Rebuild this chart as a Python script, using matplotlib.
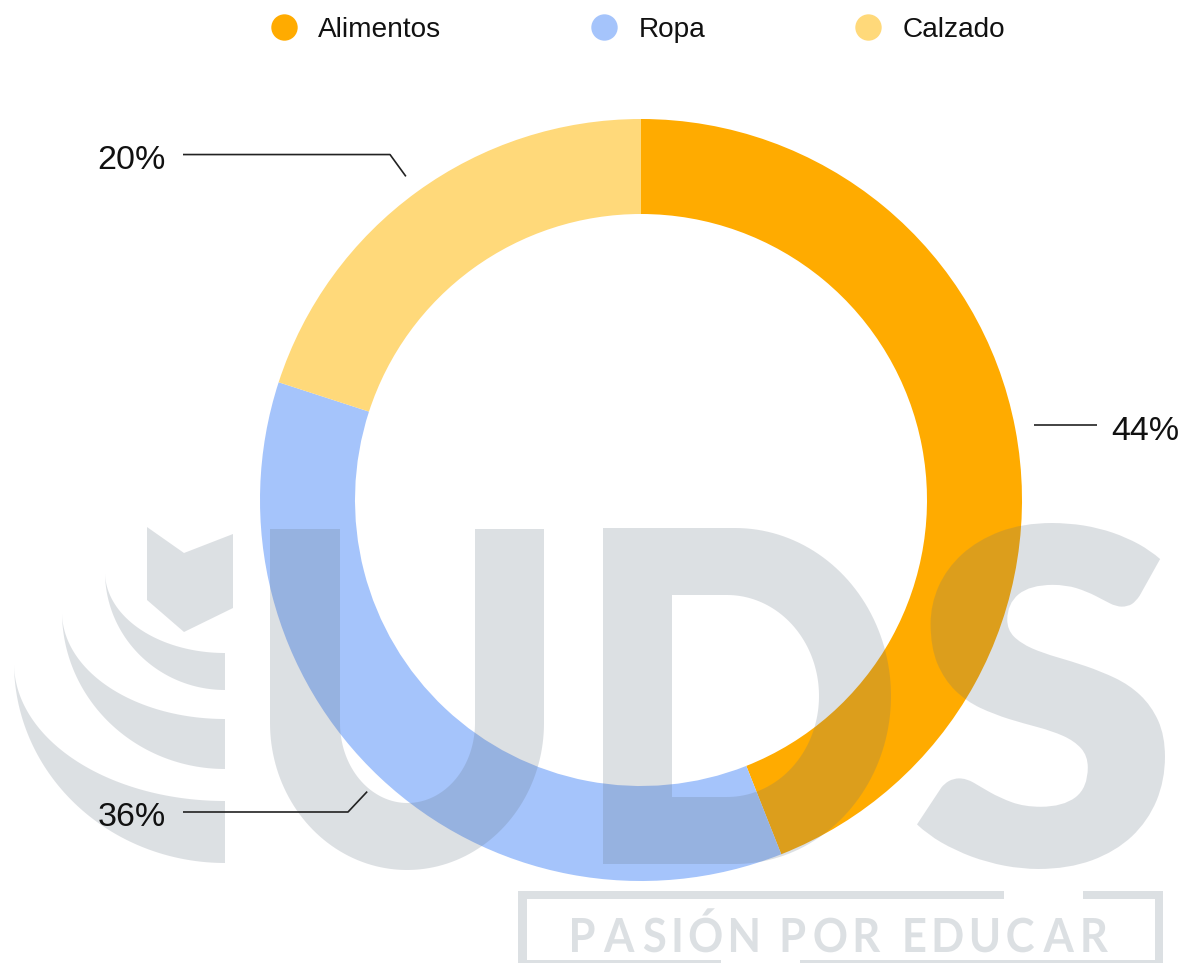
import numpy as np
import matplotlib.pyplot as plt
from matplotlib.path import Path
from matplotlib.patches import PathPatch, Polygon, Rectangle
from matplotlib.textpath import TextPath
from matplotlib.font_manager import FontProperties
from matplotlib.transforms import Affine2D
from matplotlib.lines import Line2D

plt.rcParams['font.family'] = ['Liberation Sans', 'DejaVu Sans']

# datos
categorias = ['Alimentos', 'Ropa', 'Calzado']
valores = [44, 36, 20]
colores = ['#FFAB00', '#A5C4FB', '#FFD97A']
etiquetas = [f'{v}%' for v in valores]

fig = plt.figure(figsize=(11.88, 9.63), dpi=100)
ax = fig.add_axes([0, 0, 1, 1])

# dona (coordenadas en pixeles, eje y hacia abajo)
centro = np.array([641, 500])
R = 381
wedges, _ = ax.pie(valores, colors=colores, startangle=270, counterclock=True,
                   center=tuple(centro), radius=R,
                   wedgeprops=dict(width=95, linewidth=0))
ax.set_xlim(0, 1188)
ax.set_ylim(963, 0)
ax.set_aspect('equal')
ax.axis('off')

# lineas guia y porcentajes
codo = [0, 28, 27]
for w, txt, l in zip(wedges, etiquetas, codo):
    m = np.deg2rad((w.theta1 + w.theta2) / 2)
    d = np.array([np.cos(m), np.sin(m)])
    p0 = centro + (R + 19) * d
    p1 = centro + (R + 19 + l) * d
    if d[0] < 0:
        xf, xt, ha = 183, 166, 'right'
    else:
        xf, xt, ha = 1097, 1111, 'left'
    ax.plot([p0[0], p1[0], xf], [p0[1], p1[1], p1[1]], color='#222222', lw=1.2,
            zorder=5, solid_capstyle='butt')
    ax.text(xt, p1[1] + 6, txt, ha=ha, va='center', fontsize=24.5, color='#111111', zorder=6)

# marca de agua UDS
wm = dict(facecolor=(100 / 255, 115 / 255, 130 / 255), edgecolor='none', alpha=0.22, zorder=3)


def elipse(cx, cy, a, b, t0, t1, n=90):
    t = np.linspace(t0, t1, n)
    return [tuple(p) for p in np.column_stack([cx + a * np.cos(t), cy + b * np.sin(t)])]


def compuesto(*anillos):
    verts, codes = [], []
    for pts in anillos:
        verts += pts + [pts[0]]
        codes += [Path.MOVETO] + [Path.LINETO] * (len(pts) - 1) + [Path.CLOSEPOLY]
    return Path(verts, codes)


def texto_en_caja(s, prop, x0, y0, x1, y1):
    tp = TextPath((0, 0), s, prop=prop, size=100)
    e = tp.get_extents()
    sx = (x1 - x0) / e.width
    sy = (y1 - y0) / e.height
    tr = Affine2D().translate(-e.x0, -e.y0).scale(sx, -sy).translate(x0, y1)
    return tr.transform_path(tp)


def texto_espaciado(s, prop, x0, x1, base, alto, gap=10, gap_palabra=27):
    # letras separadas (tracking) ajustadas al ancho x0..x1, altura de mayuscula = alto
    cap = TextPath((0, 0), 'H', prop=prop, size=100).get_extents().height
    k = alto / cap
    piezas, x = [], 0.0
    for ch in s:
        if ch == ' ':
            x += gap_palabra - gap
            continue
        tp = TextPath((0, 0), ch, prop=prop, size=100)
        e = tp.get_extents()
        piezas.append((tp, e, x))
        x += e.width * k + gap
    total = x - gap
    sx = (x1 - x0) / total
    paths = []
    for tp, e, xp in piezas:
        tr = Affine2D().translate(-e.x0, 0).scale(k * sx, -k).translate(x0 + xp * sx, base)
        paths.append(tr.transform_path(tp))
    return Path.make_compound_path(*paths)


# logo: chevron y arcos
ax.add_patch(Polygon([(147, 527), (184, 553), (233, 534), (233, 608), (184, 632), (147, 600)], **wm))
for tx, ty, bo, bi in [(105, 572, 118, 81), (62, 612, 157, 107), (14, 663, 200, 138)]:
    a = 225 - tx
    pts = elipse(225, ty, a, bo, np.pi, np.pi / 2) + elipse(225, ty, a, bi, np.pi / 2, np.pi)
    ax.add_patch(Polygon(pts, **wm))

# U
u = [(270, 529)] + elipse(407, 723, 137, 147, np.pi, 0) + [(544, 529), (475, 529)] \
    + elipse(407.5, 723, 67.5, 80, 0, np.pi) + [(340, 529)]
ax.add_patch(Polygon(u, **wm))

# D
d_ext = [(603, 528)] + elipse(735, 696, 156, 168, -np.pi / 2, np.pi / 2) + [(603, 864)]
d_int = [(672, 797)] + elipse(727, 696, 92, 101, np.pi / 2, -np.pi / 2) + [(672, 595)]
ax.add_patch(PathPatch(compuesto(d_ext, d_int), **wm))

# S
fp = FontProperties(family='Lato', weight='heavy')
ax.add_patch(PathPatch(texto_en_caja('S', fp, 917, 523, 1165, 869), **wm))

# recuadro "PASIÓN POR EDUCAR"
for r in [(518, 891, 486, 8), (1083, 891, 80, 8), (518, 899, 9, 70), (1155, 899, 8, 70),
          (527, 960, 194, 8), (800, 960, 355, 8)]:
    ax.add_patch(Rectangle(r[:2], r[2], r[3], **wm))
fp2 = FontProperties(family='Lato', weight='bold')
ax.add_patch(PathPatch(texto_espaciado('PASIÓN POR EDUCAR', fp2, 572, 1108, 952, 34), **wm))

# leyenda
handles = [Line2D([], [], ls='none', marker='o', ms=19, mfc=c, mec='none') for c in colores]
fig.legend(handles, categorias, loc='center', bbox_to_anchor=(0.5365, 0.969), ncol=3,
           frameon=False, fontsize=20.2, handlelength=1.0, handletextpad=0.72,
           columnspacing=5.31, labelcolor='#111111')

fig.savefig('out.png', dpi=100)
